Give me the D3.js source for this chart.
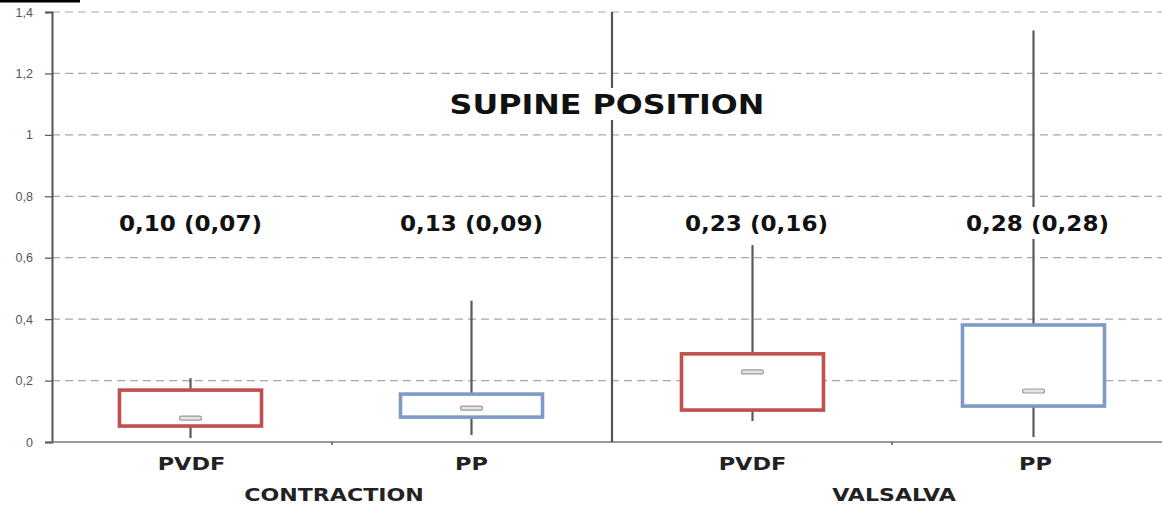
<!DOCTYPE html>
<html><head><meta charset="utf-8">
<script src="https://cdn.jsdelivr.net/npm/d3@7/dist/d3.min.js"></script>
<style>
html,body{margin:0;padding:0;background:#fff;}
svg{display:block;}
</style></head>
<body>
<svg id="chart" width="1162" height="506"></svg>
<script>
const categories = ["PVDF", "PP", "PVDF", "PP"];
const groups = ["CONTRACTION", "VALSALVA"];
const minVals = [0.013, 0.023, 0.068, 0.016];
const q1Vals = [0.052, 0.081, 0.104, 0.117];
const medianVals = [0.078, 0.110, 0.228, 0.166];
const q3Vals = [0.169, 0.156, 0.287, 0.381];
const maxVals = [0.208, 0.460, 0.641, 1.340];
const summaryLabels = ["0,10 (0,07)", "0,13 (0,09)", "0,23 (0,16)", "0,28 (0,28)"];
const yTicks = [0, 0.2, 0.4, 0.6, 0.8, 1, 1.2, 1.4];
const title = "SUPINE POSITION";
const colors = ["#c0504d", "#7e9ac6", "#c0504d", "#7e9ac6"];

const svg = d3.select("#chart");
const font = "'DejaVu Sans', Verdana, sans-serif";

// horizontally stretch texts (reference image is stretched)
function stretch(sel, k) {
  sel.each(function () {
    const w = this.getComputedTextLength();
    d3.select(this).attr("textLength", w * k).attr("lengthAdjust", "spacingAndGlyphs");
  });
}

const y = d3.scaleLinear().domain([0, 1.4]).range([442, 12]);
const x = d3.scaleBand().domain(d3.range(categories.length)).range([50, 1174]);
const gx = d3.scaleBand().domain(d3.range(groups.length)).range([52, 1172]);

// black bar top-left
svg.append("rect").attr("x", 0).attr("y", 0).attr("width", 80).attr("height", 2.5).attr("fill", "#000");

// gridlines
svg.append("g").selectAll("line").data(yTicks.filter(d => d > 0)).join("line")
  .attr("x1", 52).attr("x2", 1162)
  .attr("y1", d => y(d)).attr("y2", d => y(d))
  .attr("stroke", "#a8a8a8").attr("stroke-width", 1.2).attr("stroke-dasharray", "8,5");

// y axis
const yAxis = d3.axisLeft(y).tickValues(yTicks).tickSize(7).tickPadding(12)
  .tickFormat(d => String(d).replace(".", ","));
const ya = svg.append("g").attr("transform", "translate(52,0)").call(yAxis);
ya.select(".domain").attr("stroke", "#555").attr("stroke-width", 2);
ya.selectAll(".tick line").attr("stroke", "#555").attr("stroke-width", 1.2);
ya.selectAll(".tick text").attr("font-family", "'Liberation Sans', Arial, sans-serif")
  .attr("font-size", 12.5).attr("fill", "#555");

// x axis line
svg.append("line").attr("x1", 52).attr("x2", 1162).attr("y1", y(0)).attr("y2", y(0))
  .attr("stroke", "#777").attr("stroke-width", 1.6);
svg.append("g").selectAll("line").data(d3.range(groups.length)).join("line")
  .attr("x1", d => gx(d) + gx.bandwidth() / 2).attr("x2", d => gx(d) + gx.bandwidth() / 2)
  .attr("y1", y(0)).attr("y2", y(0) + 3).attr("stroke", "#555").attr("stroke-width", 1.5);

// separator
const sepX = x(2);
svg.append("line").attr("x1", sepX).attr("x2", sepX).attr("y1", y(1.4)).attr("y2", y(0))
  .attr("stroke", "#555").attr("stroke-width", 2.2);

// boxes
const bw = 142;
const g = svg.append("g");
const idx = d3.range(categories.length);
const cx = i => x(i) + x.bandwidth() / 2;
g.selectAll("line.wh").data(idx).join("line").attr("class", "wh")
  .attr("x1", cx).attr("x2", cx).attr("y1", i => y(maxVals[i])).attr("y2", i => y(q3Vals[i]))
  .attr("stroke", "#5a5a5a").attr("stroke-width", 2.2);
g.selectAll("line.wl").data(idx).join("line").attr("class", "wl")
  .attr("x1", cx).attr("x2", cx).attr("y1", i => y(q1Vals[i])).attr("y2", i => y(minVals[i]))
  .attr("stroke", "#5a5a5a").attr("stroke-width", 2.2);
g.selectAll("rect.box").data(idx).join("rect").attr("class", "box")
  .attr("x", i => cx(i) - bw / 2).attr("width", bw)
  .attr("y", i => y(q3Vals[i])).attr("height", i => y(q1Vals[i]) - y(q3Vals[i]))
  .attr("fill", "#fff").attr("stroke", (i) => colors[i]).attr("stroke-width", 3.6);
g.selectAll("rect.med").data(idx).join("rect").attr("class", "med")
  .attr("x", i => cx(i) - 11).attr("width", 22)
  .attr("y", i => y(medianVals[i]) - 2).attr("height", 4).attr("rx", 2)
  .attr("fill", "#e4e4e4").attr("stroke", "#999").attr("stroke-width", 1.2);

// summary labels with white background
const lab = svg.append("g").selectAll("g").data(idx).join("g");
lab.append("rect").attr("x", i => cx(i) - 84).attr("width", 168).attr("y", 207).attr("height", 32).attr("fill", "#fff");
const labT = lab.append("text").attr("x", i => cx(i) + (i >= 2 ? 4 : 0)).attr("y", 231).attr("text-anchor", "middle")
  .attr("font-family", font).attr("font-weight", "bold").attr("font-size", 21).attr("fill", "#111")
  .text(i => summaryLabels[i]);
stretch(labT, 1.1);

// title
svg.append("rect").attr("x", 444).attr("y", 88).attr("width", 326).attr("height", 32).attr("fill", "#fff");
const titleT = svg.append("text").attr("x", 607).attr("y", 114).attr("text-anchor", "middle")
  .attr("font-family", font).attr("font-weight", "bold").attr("font-size", 26).attr("fill", "#111")
  .text(title);
stretch(titleT, 1.22);

// category labels
const catT = svg.append("g").selectAll("text").data(idx).join("text")
  .attr("x", i => cx(i) + (i === 0 ? 1 : (i === 3 ? 2 : 0))).attr("y", 470).attr("text-anchor", "middle")
  .attr("font-family", font).attr("font-weight", "bold").attr("font-size", 17.5).attr("fill", "#222")
  .text(i => categories[i]);
stretch(catT, 1.28);

// group labels
const grpT = svg.append("g").selectAll("text").data(d3.range(groups.length)).join("text")
  .attr("x", d => gx(d) + gx.bandwidth() / 2 + 2).attr("y", 501).attr("text-anchor", "middle")
  .attr("font-family", font).attr("font-weight", "bold").attr("font-size", 17).attr("fill", "#222")
  .text(d => groups[d]);
stretch(grpT, 1.3);
</script>
</body></html>
